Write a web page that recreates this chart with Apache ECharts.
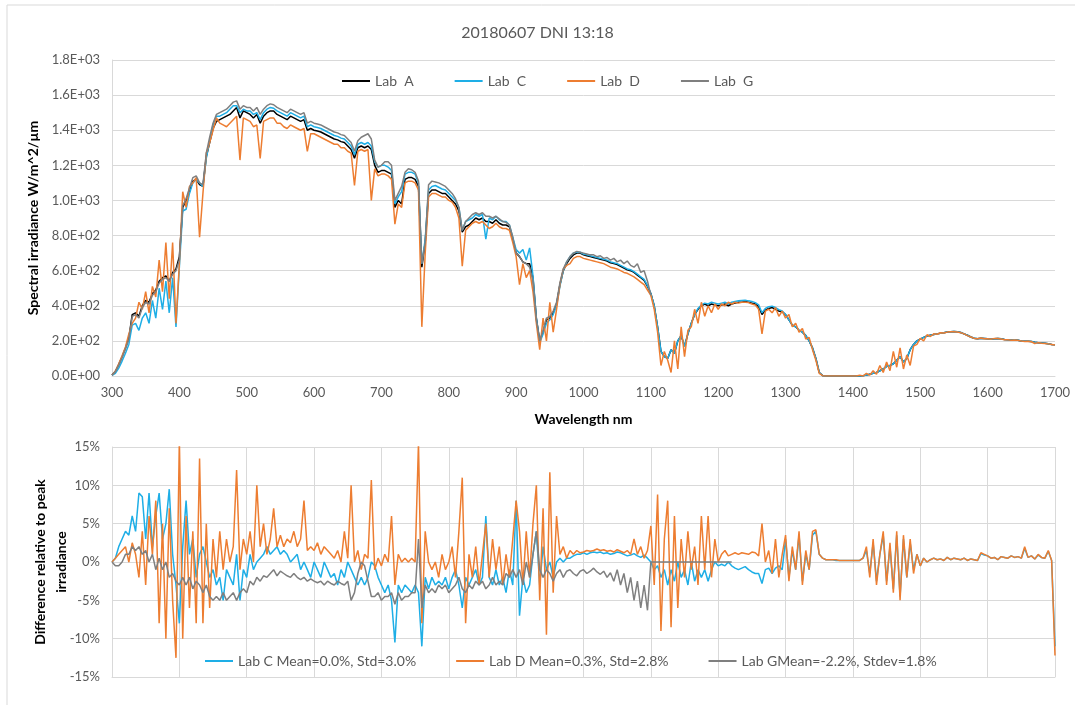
<!DOCTYPE html>
<html>
<head>
<meta charset="utf-8">
<script src="https://cdn.jsdelivr.net/npm/echarts@6/dist/echarts.min.js"></script>
<style>
  html, body { margin: 0; padding: 0; background: #fff; }
  #chart { width: 1075px; height: 705px; }
</style>
</head>
<body>
<div id="chart"></div>
<script>
// wavelength sampling: 300..1700 nm, one sample every 5 nm
const WL_START = 300
const WL_STEP = 5

// top panel, spectral irradiance W/m^2/um (one line = 50 nm)
const labA = [
  5, 25, 65, 110, 160, 215, 350, 360, 340, 400,
  430, 420, 470, 490, 540, 560, 570, 540, 590, 610,
  680, 960, 1000, 1050, 1110, 1120, 1090, 1080, 1250, 1330,
  1410, 1450, 1460, 1470, 1480, 1490, 1510, 1530, 1470, 1510,
  1500, 1490, 1470, 1490, 1440, 1480, 1500, 1510, 1510, 1490,
  1480, 1470, 1460, 1480, 1470, 1460, 1450, 1460, 1400, 1410,
  1400, 1395, 1390, 1380, 1370, 1360, 1350, 1345, 1335, 1330,
  1310, 1290, 1240, 1300, 1310, 1300, 1310, 1290, 1200, 1160,
  1170, 1170, 1160, 1150, 960, 1000, 980, 1120, 1130, 1130,
  1120, 1080, 620, 760, 1040, 1060, 1060, 1050, 1040, 1040,
  1020, 1000, 980, 940, 820, 850, 860, 880, 900, 890,
  900, 880, 880, 870, 890, 870, 860, 860, 850, 780,
  700, 680, 650, 640, 640, 560, 330, 200, 250, 320,
  330, 360, 410, 520, 600, 640, 670, 690, 700, 700,
  690, 685, 680, 675, 670, 665, 660, 655, 645, 640,
  635, 625, 615, 605, 600, 590, 575, 560, 545, 510,
  470, 400, 280, 140, 110, 100, 150, 130, 200, 230,
  170, 240, 300, 350, 380, 400, 410, 400, 410, 405,
  400, 405, 410, 400, 410, 415, 420, 420, 425, 420,
  415, 410, 395, 350, 375, 385, 390, 380, 370, 365,
  350, 320, 290, 280, 260, 250, 230, 200, 160, 100,
  20, 2, 0, 0, 0, 0, 0, 0, 0, 0,
  0, 0, 0, 2, 5, 10, 15, 20, 30, 40,
  55, 60, 70, 90, 110, 80, 100, 150, 180, 200,
  210, 220, 228, 232, 236, 240, 244, 247, 250, 252,
  253, 252, 248, 240, 232, 222, 215, 212, 215, 214,
  212, 210, 212, 214, 212, 208, 206, 205, 206, 203,
  200, 198, 198, 196, 192, 190, 188, 186, 184, 180,
  178
]
const labC = [
  3, 15, 45, 85, 130, 180, 290, 300, 260, 330,
  360, 300, 430, 330, 500, 380, 540, 360, 560, 280,
  620, 940, 950, 1040, 1100, 1120, 1100, 1080, 1240, 1340,
  1430, 1480, 1480, 1490, 1500, 1520, 1540, 1540, 1500, 1520,
  1510, 1510, 1490, 1500, 1460, 1500, 1520, 1530, 1525, 1510,
  1500, 1490, 1480, 1500, 1490, 1480, 1470, 1480, 1420, 1430,
  1420, 1415, 1410, 1400, 1390, 1380, 1370, 1365, 1355, 1350,
  1330, 1310, 1260, 1320, 1330, 1320, 1330, 1310, 1220, 1190,
  1200, 1200, 1190, 1170, 980, 1020, 1050, 1150, 1160, 1160,
  1150, 1100, 640, 780, 1060, 1080, 1085, 1075, 1065, 1060,
  1040, 1020, 1000, 960, 830, 880, 890, 900, 920, 910,
  920, 780, 900, 890, 910, 890, 880, 880, 860, 790,
  720, 700, 720, 660, 730, 570, 330, 190, 240, 300,
  320, 350, 400, 510, 600, 650, 680, 700, 705, 705,
  695, 690, 685, 680, 675, 670, 665, 660, 650, 645,
  640, 630, 620, 610, 605, 595, 580, 565, 550, 515,
  470, 400, 280, 140, 110, 100, 150, 130, 200, 230,
  170, 240, 300, 350, 385, 405, 415, 410, 420, 415,
  410, 415, 420, 410, 420, 425, 428, 430, 432, 428,
  425, 418, 405, 360, 385, 395, 398, 390, 378, 370,
  350, 320, 290, 280, 260, 250, 230, 200, 160, 100,
  20, 2, 0, 0, 0, 0, 0, 0, 0, 0,
  0, 0, 0, 2, 5, 10, 15, 20, 30, 40,
  55, 60, 70, 90, 110, 80, 100, 150, 180, 200,
  210, 220, 228, 232, 236, 240, 244, 247, 250, 252,
  253, 252, 248, 240, 232, 222, 215, 212, 215, 214,
  212, 210, 212, 214, 212, 208, 206, 205, 206, 203,
  200, 198, 198, 196, 192, 190, 188, 186, 184, 180,
  178
]
const labD = [
  5, 28, 70, 115, 165, 240, 300, 330, 420, 380,
  480, 360, 510, 450, 660, 480, 760, 440, 760, 300,
  640, 1050, 960, 1080, 1100, 1130, 790, 1040, 1270, 1330,
  1400, 1470, 1440, 1430, 1420, 1440, 1460, 1480, 1230, 1470,
  1460, 1450, 1420, 1430, 1240, 1450, 1460, 1470, 1470, 1440,
  1440, 1420, 1410, 1430, 1420, 1410, 1400, 1410, 1280, 1380,
  1380, 1370, 1360, 1350, 1340, 1330, 1320, 1320, 1300, 1300,
  1280, 1270, 1085, 1280, 1290, 1280, 1290, 1000, 1180, 1140,
  1150, 1150, 1140, 1120, 865, 980, 960, 1100, 1110, 1110,
  1100, 1060, 280, 700, 1020, 1040, 1040, 1030, 1020, 1020,
  1000, 990, 960, 900, 625, 830, 850, 870, 880, 870,
  880, 860, 840, 850, 870, 850, 840, 840, 830, 760,
  680, 520, 640, 560, 600, 480, 300, 150, 330, 200,
  420, 250, 380, 520, 610, 630, 640, 670, 680, 680,
  670, 665, 660, 655, 650, 645, 640, 630, 620, 615,
  610, 600, 590, 585, 575, 565, 550, 535, 520, 490,
  460, 380, 250, 60, 140, 90, 20, 200, 40, 280,
  110, 260, 280, 380, 300, 420, 340, 400, 360, 410,
  380, 410, 400, 420, 410, 420, 415, 420, 420, 418,
  410, 405, 380, 240, 370, 380, 360, 390, 340, 370,
  330, 350, 280, 300, 250, 270, 210, 220, 150, 90,
  15, 2, 0, 0, 0, 0, 0, 0, 0, 0,
  0, 0, 5, 0, 15, 5, 30, 10, 60, 20,
  80, 30, 140, 50, 160, 40, 120, 60, 170, 180,
  215, 200, 235, 225, 240, 238, 246, 245, 250, 252,
  252, 250, 247, 240, 230, 222, 214, 212, 216, 212,
  212, 210, 213, 214, 211, 207, 206, 204, 205, 203,
  199, 197, 198, 195, 185, 190, 187, 185, 183, 180,
  176
]
// Lab G only reaches 1100 nm
const labG = [
  5, 25, 62, 105, 155, 210, 340, 350, 330, 390,
  420, 410, 460, 480, 530, 550, 560, 540, 580, 600,
  660, 970, 1010, 1070, 1130, 1140, 1100, 1090, 1270, 1360,
  1440, 1490, 1500, 1510, 1520, 1540, 1560, 1567, 1520, 1540,
  1530, 1530, 1510, 1530, 1490, 1520, 1540, 1550, 1545, 1530,
  1520, 1510, 1500, 1520, 1510, 1500, 1490, 1500, 1440, 1450,
  1440, 1435, 1430, 1420, 1410, 1400, 1390, 1385, 1375, 1370,
  1350, 1330, 1280, 1340, 1360, 1370, 1380, 1350, 1230, 1190,
  1200, 1220, 1220, 1200, 1000, 1040, 1080, 1160, 1180, 1175,
  1160, 1110, 640, 760, 1090, 1110, 1105, 1100, 1090, 1080,
  1060, 1040, 1010, 960, 830, 880, 900, 920, 930, 920,
  930, 910, 910, 900, 910, 895, 880, 875, 860, 790,
  700, 680, 650, 640, 620, 540, 320, 200, 260, 330,
  340, 370, 420, 530, 610, 650, 680, 700, 710, 705,
  700, 695, 690, 690, 680, 685, 670, 675, 660, 670,
  650, 660, 640, 655, 630, 620, 640, 590, 600, 540,
  460
]

// bottom panel, difference relative to peak irradiance (%)
const diffC = [
  0, 0.5, 2, 3, 4, 3.5, 6, 4, 9, 8.5,
  3, 9, 2, 6, 9, 3, 5, 9.5, 1, -3,
  -8, 2, 8, 1, 3, -2, 1, 2, 0, -2,
  -1, -3, -2, -5, -1, -2, -3, 1, -5, -1,
  -2, 1, -1, 0, 0.5, 1, 2, 1, 1.5, 2,
  1, 1.5, 1, 0, 0.5, 1, -1, 0, -1, -2,
  0, -1, -2, 0, -1, -2, -1.5, -3, -1, -2,
  0, -1, -2, -3, -2, -3, -2, 0, -0.5, -2,
  -3, -4, -3, -5, -10.5, -3, -4, -3, -3.5, -4,
  -3, -4, -11, -2, -3.5, -2, -3, -2.5, -3, -2,
  -3.5, -2, -1, -3, -6, -2, -3, -2, -1, -3,
  -2, 6, -2, -3, -1, -3, -2, -4, -1, -3,
  8, -7, -2, -4, -3, 1, 4, -3, 2, -1,
  0, -2, 0, 0.5, 0, 0.5, 0.5, 0.8, 1, 1,
  1.2, 1, 1.2, 1.3, 1.2, 1.3, 1.1, 1.2, 1, 1.1,
  1.3, 1.2, 1, 0.8, 0.9, 1.1, 0.8, 0.6, 0.9, 0.5,
  0, -1, -0.5, -2, -1, -3, -1, -2.5, 0, -2,
  -1, -3, 0, -2.5, -1, -2, -1, -2.5, -1, 0,
  -0.5, -0.3, -0.5, 0, -0.5, -0.8, -1, -0.8, -0.6, -1,
  -1.3, -1.5, -1.5, -2.8, -1, -0.8, -1.5, -0.8, -0.5, -1,
  3, -2, 1.5, -1, 3.5, -2.5, 1, -1, 3.5, 4,
  1, 0.5, 0.3, 0.3, 0.3, 0.2, 0.2, 0.2, 0.2, 0.2,
  0.2, 0.2, 0.2, 0.5, 1.5, -1.5, 2.5, -2.5, 1, 3.5,
  -2.5, 2, -3.5, 3.5, -4.5, 3, -2, 2.5, -1, 1,
  -0.5, 0.5, 0, 0.3, 0.5, 0.3, 0.4, 0.2, 0.6, 0.3,
  0.5, 0.4, 0.3, 0.5, 0.2, 0.4, 0.3, 0.2, 1.1, 0.9,
  0.8, 0.5, 0.6, 0.3, 0.7, 0.6, 0.5, 0.8, 0.6, 0.7,
  0.5, 1.8, 0.6, 0.8, 0.4, 0.9, 0.6, 0.5, 1.4, 0.2,
  -11
]
const diffD = [
  0, 0.5, 1, 1.5, 2, 0, 2.5, 1, -2, 4,
  -3, 6, 1, 8, -8, 5, -10, 7, -5, -12.5,
  16, -10, 6, -6, 4, -8, 13.5, -8, 5, -6,
  3, -2, 4, -1, 3, 0, 2, 12, -1, 3,
  1, 4, 0, 10, 2, 5, 1, 3, 7, 2,
  3.5, 2, 3, 2.5, 4, 2, 3, 8, 1.5, 2,
  1.5, 2.5, 1, 2, 1.5, 1, 0.5, 1.5, 0, 4,
  0.5, 10, 0, 1.5, -1, 1, 0.5, 10.7, -1, 0.5,
  -0.5, 1, 0, 6, -3, 1, 0, 0.5, 0, 0.5,
  0, 15.5, -8, 4, 0, -1, 0, -2, 1, -1,
  0, 2, -2, 4, 11, -8, 1, -2, 2, -3,
  1, 5, -2, 3, -1, 2, -3, 1, -2, 3,
  8, 4, -3, 4, -2, 5, 10, -5, 7, -9.5,
  11.7, -4, 6, 1, 2, 0.5, 1.5, 1, 1.5, 1.2,
  1.3, 1.5, 1.4, 1.5, 1.7, 1.5, 1.6, 1.4, 1.5, 1.3,
  1.6, 1.4, 1.2, 1.5, 1, 3, 1, 2, 0.5, 1.5,
  4.7, -3, 8.8, -9, 3, 8, -8.5, 6, -6, 3,
  -2, 4, -1, 2, -3, 6, -1, 6, -2, 3,
  0, 1, 1.5, 0.8, 1, 1.2, 1, 1.2, 1.1, 1,
  1.3, 1.2, 0.8, 5, 0, 1.5, -1.5, 3, -2, 1,
  3.5, -2.5, 2, -1, 4, -3, 1.5, -1, 4, 4.2,
  1, 0.5, 0.3, 0.3, 0.3, 0.3, 0.2, 0.2, 0.2, 0.2,
  0.2, 0.2, 0.2, 0.5, 2, -2, 3, -3, 1, 4,
  -3, 2.5, -4, 4, -5, 3.5, -2, 3, -1.5, 1,
  -0.5, 0.5, 0, 0.3, 0.5, 0.3, 0.4, 0.2, 0.6, 0.3,
  0.5, 0.4, 0.3, 0.5, 0.2, 0.4, 0.3, 0.2, 1.2, 1,
  0.8, 0.5, 0.6, 0.3, 0.7, 0.6, 0.5, 0.8, 0.6, 0.7,
  0.5, 2, 0.6, 0.8, 0.4, 1, 0.6, 0.5, 1.5, 0.2,
  -12.2
]
// Lab G difference runs to 1220 nm (flat after 1100)
const diffG = [
  0, -0.5, -0.5, 0, 1, 1, 2, 1.5, 2, 1,
  1.5, 0, 1, -1, 0.5, -1, 0, -2, -1.5, -2.5,
  -3, -2, -3, -2, -3.5, -2.5, -3, -4, -3, -4.5,
  -5, -4.5, -5, -4, -5, -4.5, -4, -5, -4, -3.5,
  -4, -2.5, -3, -2, -2.5, -1.8, -2, -1.5, -1, -1.8,
  -1.2, -1.5, -1.8, -2, -1.5, -2, -2.3, -2, -2.5, -2.2,
  -2.5, -2.7, -2.5, -3, -2.5, -2.8, -3, -2.5, -2.8, -3,
  -2.5, -5, -4, -1.5, 0, -0.5, -2.5, -4.5, -4.5, -4,
  -5, -4.5, -4.5, -4, -5.5, -4, -5, -4.5, -4.5, -4,
  -4, 3, -6, -3, -4, -3.5, -4, -3, -3.5, -3,
  -4, -3.5, -3, -2, -3.5, -4, -3, -3.5, -2.5, -3,
  -2.5, -3.5, -3, -2, -3, -2.5, -3, -1.5, -2, -1,
  -2, -1, -3, 0, -2, 1, 4, -1, -2, -1,
  -1.5, -2.5, -1.5, -1, -2, -1.2, -1, -1.5, -1.8, -1.2,
  -1, -1.5, -1.2, -0.8, -1.3, -1.6, -1.2, -2, -1.4, -2.5,
  -1, -3, -1.5, -4, -2, -5, -2.5, -6, -3, -6.3,
  0, 0, 0, 0, 0, 0, 0, 0, 0, 0,
  0, 0, 0, 0, 0, 0, 0, 0, 0, 0,
  0, 0, 0, 0, 0
]

const topNames = ['Lab  A', 'Lab  C', 'Lab  D', 'Lab  G']
const diffNames = ['Lab C Mean=0.0%, Std=3.0%', 'Lab D Mean=0.3%, Std=2.8%', 'Lab GMean=-2.2%, Stdev=1.8%']
const colA = '#000000'
const colC = '#1eaee6'
const colD = '#ed7d31'
const colG = '#7f7f7f'

function pairs(vals) {
  return vals.map((v, i) => [WL_START + i * WL_STEP, v])
}

const font = 'Lato, "Open Sans", sans-serif'
const txt = '#595959'
const gridCol = '#d9d9d9'

function sci(v) {
  return v.toExponential(1).toUpperCase().replace(/E\+(\d)$/, 'E+0$1')
}

function lineSeries(name, vals, color, idx) {
  return {
    name: name,
    type: 'line',
    xAxisIndex: idx,
    yAxisIndex: idx,
    data: pairs(vals),
    symbol: 'none',
    showSymbol: false,
    clip: true,
    lineStyle: { color: color, width: 1.5 },
    itemStyle: { color: color },
    emphasis: { disabled: true }
  }
}

const chart = echarts.init(document.getElementById('chart'), null, { renderer: 'canvas' })

const option = {
  backgroundColor: '#fff',
  animation: false,
  textStyle: { fontFamily: font },
  title: {
    text: '20180607 DNI 13:18',
    left: 'center',
    top: 20,
    textStyle: { color: txt, fontSize: 16, fontWeight: 'normal', fontFamily: font }
  },
  graphic: [{
    type: 'rect',
    shape: { x: 7, y: 5, width: 1100, height: 800 },
    style: { fill: 'none', stroke: gridCol, lineWidth: 1 },
    silent: true
  }, {
    // bottom panel y-axis title (two lines)
    type: 'text',
    x: 51,
    y: 562,
    rotation: Math.PI / 2,
    silent: true,
    style: {
      text: 'Difference relative to peak\nirradiance',
      fill: '#000',
      font: 'bold 14px ' + font,
      lineHeight: 21,
      align: 'center',
      verticalAlign: 'middle'
    }
  }],
  legend: [{
    data: topNames,
    left: 337,
    top: 69,
    itemGap: 41,
    itemWidth: 28,
    itemHeight: 2,
    icon: 'rect',
    textStyle: { color: txt, fontSize: 14, fontFamily: font }
  }, {
    data: diffNames,
    left: 200,
    top: 649,
    itemGap: 40,
    itemWidth: 28,
    itemHeight: 2,
    icon: 'rect',
    textStyle: { color: txt, fontSize: 14, fontFamily: font }
  }],
  grid: [
    { left: 112, right: 20, top: 60, height: 316, outerBoundsMode: 'none' },
    { left: 112, right: 20, top: 447, height: 230, outerBoundsMode: 'none' }
  ],
  xAxis: [{
    gridIndex: 0,
    type: 'value',
    min: 300,
    max: 1700,
    interval: 100,
    name: 'Wavelength nm',
    nameLocation: 'middle',
    nameGap: 36,
    nameTextStyle: { color: '#000', fontSize: 14, fontWeight: 'bold', fontFamily: font },
    axisLine: { show: true, lineStyle: { color: gridCol } },
    axisTick: { show: false },
    axisLabel: { color: txt, fontSize: 13, margin: 10, fontFamily: font, formatter: v => String(v) },
    splitLine: { show: false }
  }, {
    gridIndex: 1,
    type: 'value',
    min: 300,
    max: 1700,
    interval: 100,
    axisLine: { show: true, onZero: false, lineStyle: { color: gridCol } },
    axisTick: { show: false },
    axisLabel: { show: false },
    splitLine: { show: true, lineStyle: { color: gridCol } }
  }],
  yAxis: [{
    gridIndex: 0,
    type: 'value',
    min: 0,
    max: 1800,
    interval: 200,
    name: 'Spectral irradiance W/m^2/µm',
    nameLocation: 'middle',
    nameRotate: 90,
    nameGap: 68,
    nameTextStyle: { color: '#000', fontSize: 14, fontWeight: 'bold', fontFamily: font },
    axisLine: { show: true, lineStyle: { color: gridCol } },
    axisTick: { show: false },
    axisLabel: { color: txt, fontSize: 13, margin: 12, formatter: sci, fontFamily: font },
    splitLine: { show: true, lineStyle: { color: gridCol } }
  }, {
    gridIndex: 1,
    type: 'value',
    min: -15,
    max: 15,
    interval: 5,
    axisLine: { show: true, lineStyle: { color: gridCol } },
    axisTick: { show: false },
    axisLabel: { color: txt, fontSize: 13, margin: 12, formatter: v => v + '%', fontFamily: font },
    splitLine: { show: true, lineStyle: { color: gridCol } }
  }],
  series: [
    lineSeries(topNames[0], labA, colA, 0),
    lineSeries(topNames[1], labC, colC, 0),
    lineSeries(topNames[2], labD, colD, 0),
    lineSeries(topNames[3], labG, colG, 0),
    lineSeries(diffNames[0], diffC, colC, 1),
    lineSeries(diffNames[1], diffD, colD, 1),
    lineSeries(diffNames[2], diffG, colG, 1)
  ]
}

chart.setOption(option)
</script>
</body>
</html>
